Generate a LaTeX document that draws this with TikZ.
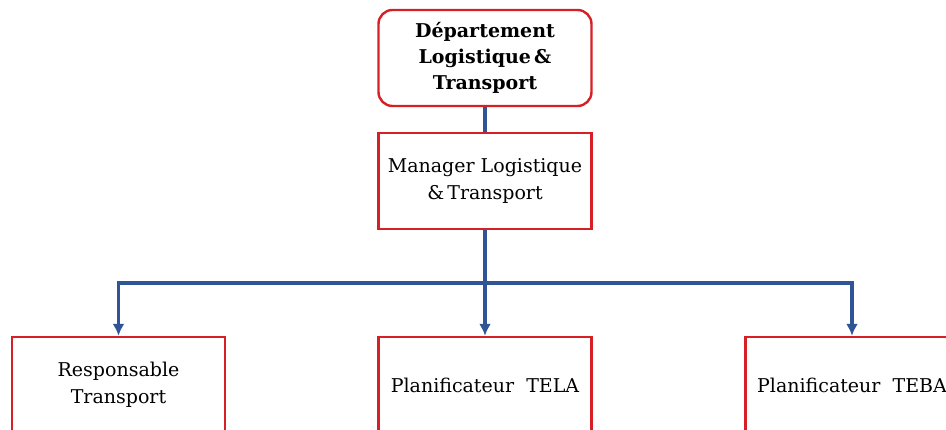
\documentclass[tikz,border=0pt]{standalone}
\usepackage{fontspec}
\setmainfont{DejaVu Serif}
\usetikzlibrary{arrows.meta}
\definecolor{boxred}{RGB}{214,32,38}
\definecolor{linkblue}{RGB}{47,85,151}
\begin{document}
\begin{tikzpicture}[x=1pt,y=-1pt,
  unit/.style={draw=boxred, line width=2.4pt, fill=white, minimum width=213pt,
    minimum height=96pt, align=center, inner sep=0pt, font=\fontsize{19}{27}\selectfont},
  head/.style={unit, rounded corners=14pt, font=\bfseries\fontsize{19}{26}\selectfont},
  link/.style={draw=linkblue, line width=3.2pt},
  arr/.style={link, -{Latex[length=12pt,width=12pt]}}]
\useasboundingbox (0,0) rectangle (946,430);
\node[head] (dept) at (485,58) {Département\\Logistique\,\&\\Transport};
\node[unit] (mgr) at (485,181) {Manager Logistique\\\&\,Transport};
\node[unit] (resp) at (118.5,385) {Responsable\\Transport};
\node[unit] (tela) at (485,385) {Planificateur\ \ TELA};
\node[unit] (teba) at (852,385) {Planificateur\ \ TEBA};
\coordinate (hub) at (485,283);
\draw[link] (dept.south) -- (mgr.north);
\draw[link] (mgr.south) -- (hub);
\draw[arr] (hub) -| (resp.north);
\draw[arr] (hub) -| (teba.north);
\draw[arr] (hub) -- (tela.north);
\end{tikzpicture}
\end{document}
